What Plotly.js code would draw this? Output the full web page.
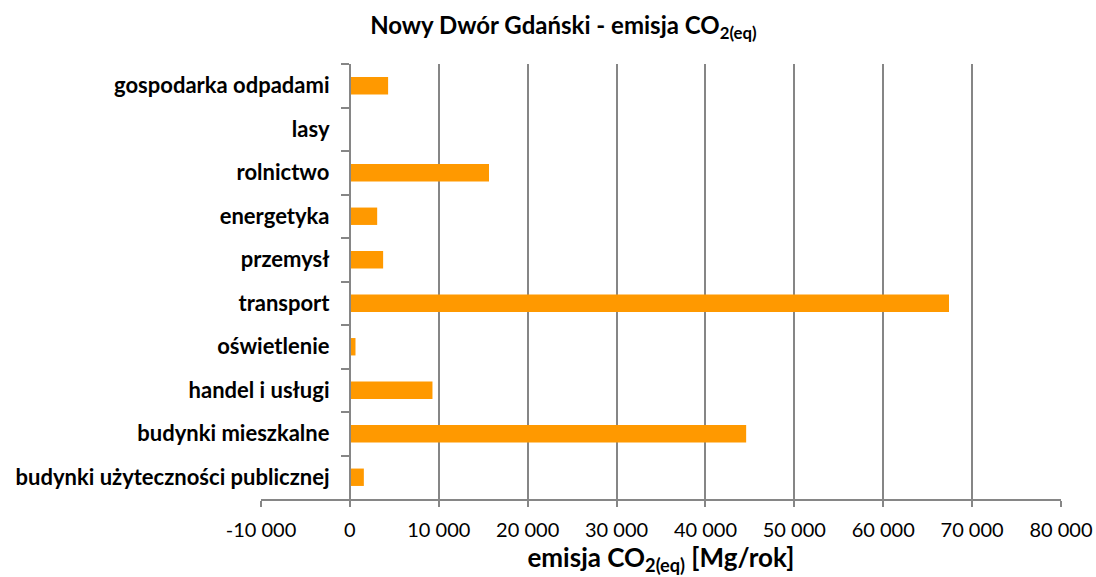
<!DOCTYPE html>
<html>
<head>
<meta charset="utf-8">
<script src="https://cdn.plot.ly/plotly-3.0.1.min.js"></script>
<style>html,body{margin:0;padding:0;background:#fff;}#chart{width:1096px;height:577px;}</style>
</head>
<body>
<div id="chart"></div>
<script>
// Categories listed top to bottom as in the reference
var categories = [
  "gospodarka odpadami",
  "lasy",
  "rolnictwo",
  "energetyka",
  "przemysł",
  "transport",
  "oświetlenie",
  "handel i usługi",
  "budynki mieszkalne",
  "budynki użyteczności publicznej"
];
var emissions = [4300, 0, 15650, 3070, 3740, 67400, 630, 9290, 44580, 1570];
var xTickVals = [-10000, 0, 10000, 20000, 30000, 40000, 50000, 60000, 70000, 80000];
var xTickText = ["-10 000", "0", "10 000", "20 000", "30 000", "40 000", "50 000", "60 000", "70 000", "80 000"];

var FONT = "Lato, 'Open Sans', sans-serif";
var GRID = "#868686";

var trace = {
  type: "bar",
  orientation: "h",
  y: categories,
  x: emissions,
  marker: {color: "#FF9900", line: {width: 0}},
  hoverinfo: "x+y"
};

var layout = {
  width: 1096,
  height: 577,
  margin: {l: 260.5, r: 35.4, t: 64, b: 77.5},
  paper_bgcolor: "#ffffff",
  plot_bgcolor: "#ffffff",
  showlegend: false,
  bargap: 0.6,
  font: {family: FONT, color: "#000000"},
  title: {
    text: "<b>Nowy Dwór Gdański - emisja CO<sub>2(eq)</sub></b>",
    font: {family: FONT, size: 24, color: "#000"},
    x: 0.514, xanchor: "center", xref: "container",
    y: 0.955, yanchor: "middle", yref: "container"
  },
  xaxis: {
    range: [-10000, 80000],
    tickmode: "array",
    tickvals: xTickVals,
    ticktext: xTickText,
    showgrid: true,
    gridcolor: GRID,
    gridwidth: 2,
    zeroline: false,
    showline: true,
    linecolor: GRID,
    linewidth: 2,
    ticks: "outside",
    ticklen: 6,
    tickwidth: 2,
    tickcolor: GRID,
    ticklabelstandoff: 6,
    tickfont: {family: FONT, size: 20, color: "#000"},
    title: {
      text: "<b>emisja CO<sub>2(eq)</sub> [Mg/rok]</b>",
      font: {family: FONT, size: 26, color: "#000"},
      standoff: 4
    },
    fixedrange: true
  },
  yaxis: {
    type: "category",
    autorange: "reversed",
    anchor: "free",
    position: 1 / 9,
    showline: true,
    linecolor: GRID,
    linewidth: 2,
    showgrid: false,
    zeroline: false,
    ticks: "outside",
    tickson: "boundaries",
    ticklen: 8,
    tickwidth: 2,
    tickcolor: GRID,
    ticklabelstandoff: 15,
    tickfont: {family: FONT, size: 22, color: "#000", weight: "bold"},
    fixedrange: true
  }
};

Plotly.newPlot("chart", [trace], layout, {displayModeBar: false, staticPlot: true});
</script>
</body>
</html>
